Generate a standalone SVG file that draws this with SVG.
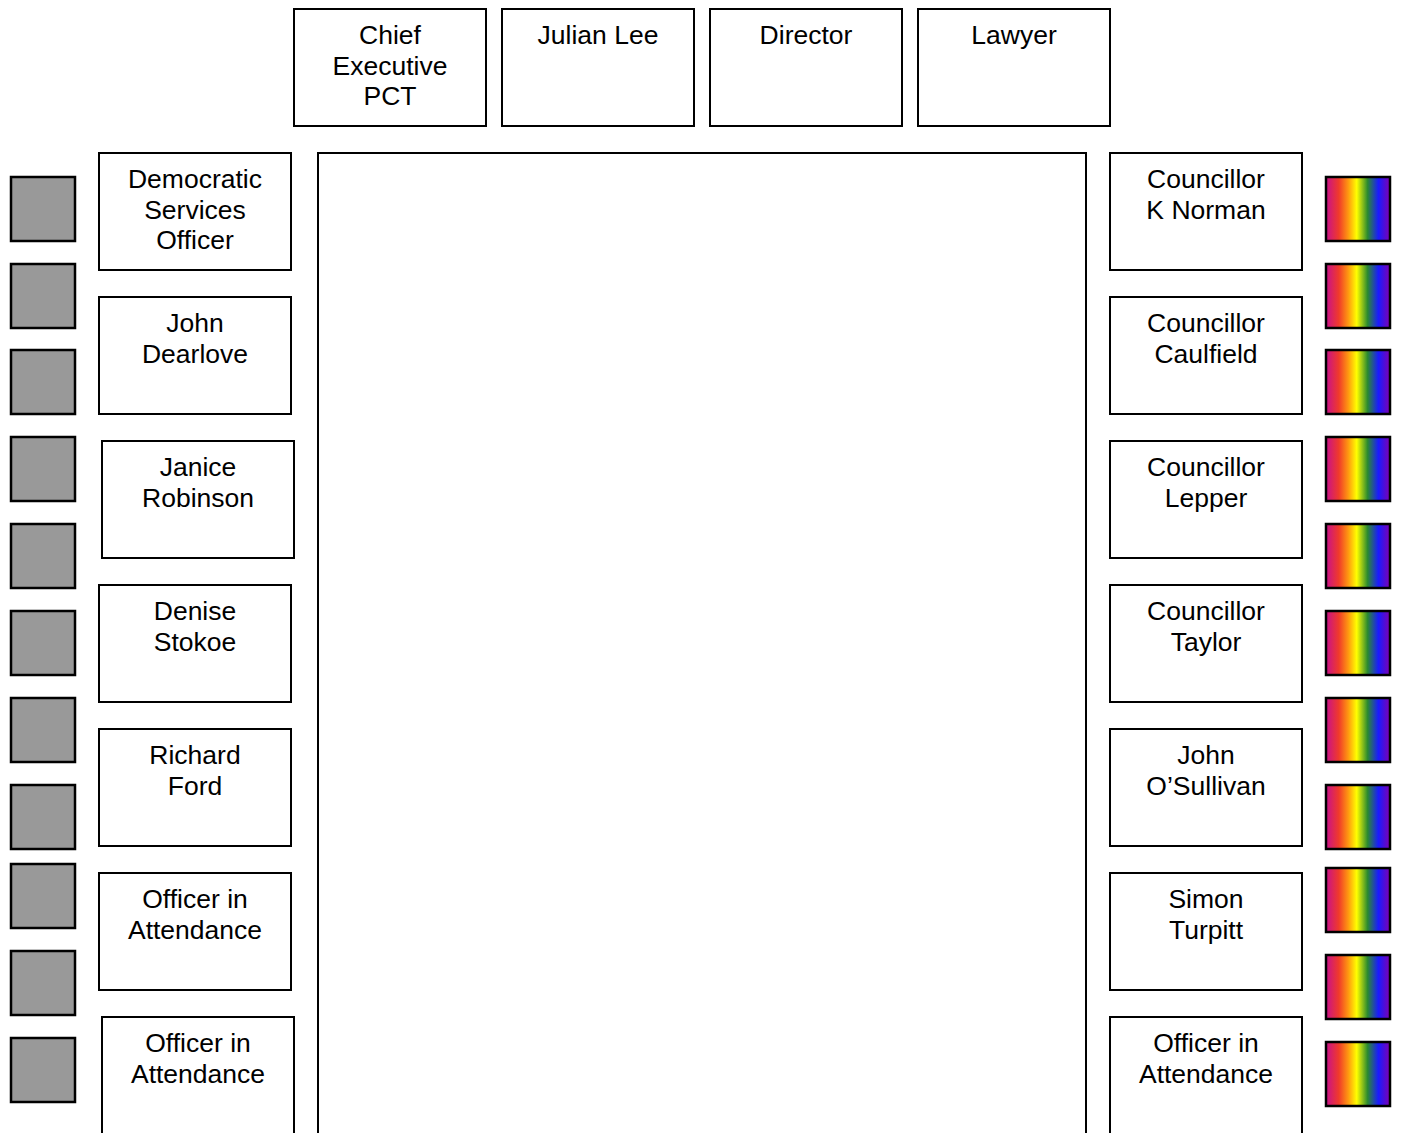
<svg xmlns="http://www.w3.org/2000/svg" width="1402" height="1133" viewBox="0 0 1402 1133">
<style>
.box{fill:#fff;stroke:#000;stroke-width:2}
.g{fill:#999;stroke:#000;stroke-width:2.5}
.r{fill:url(#rb);stroke:#000;stroke-width:2.5}
text{font-family:"Liberation Sans",Arial,sans-serif;font-size:26.5px;fill:#000;text-anchor:middle}
</style>
<defs>
<linearGradient id="rb" x1="0" y1="0" x2="1" y2="0">
<stop offset="0" stop-color="#c8108c"/>
<stop offset="0.2" stop-color="#f03a2a"/>
<stop offset="0.35" stop-color="#ff9a10"/>
<stop offset="0.48" stop-color="#ffff00"/>
<stop offset="0.65" stop-color="#2a8a30"/>
<stop offset="0.82" stop-color="#1a1aff"/>
<stop offset="1" stop-color="#8000b0"/>
</linearGradient>
</defs>
<rect id="table" class="box" x="318" y="153" width="768" height="990"/>
<g id="connectors"></g>
<g id="top-chief"><rect class="box" x="294" y="9" width="192" height="117"/><text x="390" y="44">Chief</text><text x="390" y="74.5">Executive</text><text x="390" y="105">PCT</text></g>
<g id="top-julian"><rect class="box" x="502" y="9" width="192" height="117"/><text x="598" y="44">Julian Lee</text></g>
<g id="top-director"><rect class="box" x="710" y="9" width="192" height="117"/><text x="806" y="44">Director</text></g>
<g id="top-lawyer"><rect class="box" x="918" y="9" width="192" height="117"/><text x="1014" y="44">Lawyer</text></g>
<g id="l1"><rect class="box" x="99" y="153" width="192" height="117"/><text x="195" y="188">Democratic</text><text x="195" y="218.5">Services</text><text x="195" y="249">Officer</text></g>
<g id="l2"><rect class="box" x="99" y="297" width="192" height="117"/><text x="195" y="332">John</text><text x="195" y="362.5">Dearlove</text></g>
<g id="l3"><rect class="box" x="102" y="441" width="192" height="117"/><text x="198" y="476">Janice</text><text x="198" y="506.5">Robinson</text></g>
<g id="l4"><rect class="box" x="99" y="585" width="192" height="117"/><text x="195" y="620">Denise</text><text x="195" y="650.5">Stokoe</text></g>
<g id="l5"><rect class="box" x="99" y="729" width="192" height="117"/><text x="195" y="764">Richard</text><text x="195" y="794.5">Ford</text></g>
<g id="l6"><rect class="box" x="99" y="873" width="192" height="117"/><text x="195" y="908">Officer in</text><text x="195" y="938.5">Attendance</text></g>
<g id="l7"><rect class="box" x="102" y="1017" width="192" height="130"/><text x="198" y="1052">Officer in</text><text x="198" y="1082.5">Attendance</text></g>
<g id="r1"><rect class="box" x="1110" y="153" width="192" height="117"/><text x="1206" y="188">Councillor</text><text x="1206" y="218.5">K Norman</text></g>
<g id="r2"><rect class="box" x="1110" y="297" width="192" height="117"/><text x="1206" y="332">Councillor</text><text x="1206" y="362.5">Caulfield</text></g>
<g id="r3"><rect class="box" x="1110" y="441" width="192" height="117"/><text x="1206" y="476">Councillor</text><text x="1206" y="506.5">Lepper</text></g>
<g id="r4"><rect class="box" x="1110" y="585" width="192" height="117"/><text x="1206" y="620">Councillor</text><text x="1206" y="650.5">Taylor</text></g>
<g id="r5"><rect class="box" x="1110" y="729" width="192" height="117"/><text x="1206" y="764">John</text><text x="1206" y="794.5">O’Sullivan</text></g>
<g id="r6"><rect class="box" x="1110" y="873" width="192" height="117"/><text x="1206" y="908">Simon</text><text x="1206" y="938.5">Turpitt</text></g>
<g id="r7"><rect class="box" x="1110" y="1017" width="192" height="130"/><text x="1206" y="1052">Officer in</text><text x="1206" y="1082.5">Attendance</text></g>
<g id="grey-seats">
<rect class="g" x="11" y="177" width="64" height="64"/>
<rect class="g" x="11" y="264" width="64" height="64"/>
<rect class="g" x="11" y="350" width="64" height="64"/>
<rect class="g" x="11" y="437" width="64" height="64"/>
<rect class="g" x="11" y="524" width="64" height="64"/>
<rect class="g" x="11" y="611" width="64" height="64"/>
<rect class="g" x="11" y="698" width="64" height="64"/>
<rect class="g" x="11" y="785" width="64" height="64"/>
<rect class="g" x="11" y="864" width="64" height="64"/>
<rect class="g" x="11" y="951" width="64" height="64"/>
<rect class="g" x="11" y="1038" width="64" height="64"/>
</g>
<g id="rainbow-seats">
<rect class="r" x="1326" y="177" width="64" height="64"/>
<rect class="r" x="1326" y="264" width="64" height="64"/>
<rect class="r" x="1326" y="350" width="64" height="64"/>
<rect class="r" x="1326" y="437" width="64" height="64"/>
<rect class="r" x="1326" y="524" width="64" height="64"/>
<rect class="r" x="1326" y="611" width="64" height="64"/>
<rect class="r" x="1326" y="698" width="64" height="64"/>
<rect class="r" x="1326" y="785" width="64" height="64"/>
<rect class="r" x="1326" y="868" width="64" height="64"/>
<rect class="r" x="1326" y="955" width="64" height="64"/>
<rect class="r" x="1326" y="1042" width="64" height="64"/>
</g>
</svg>
